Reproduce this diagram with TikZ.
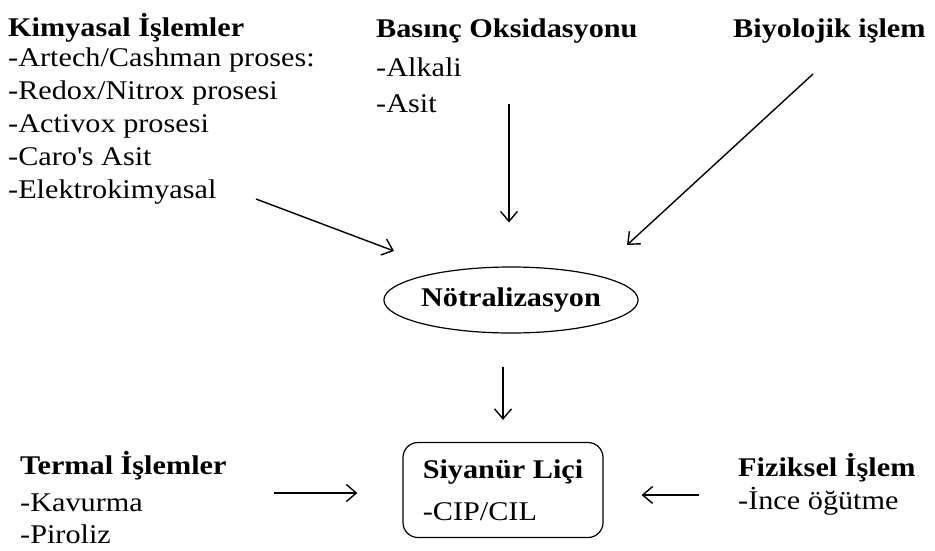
\documentclass[tikz,border=0pt]{standalone}
\usepackage{fontspec}
\setmainfont{Liberation Serif}[FakeStretch=1.12]
\usetikzlibrary{arrows.meta,shapes.geometric}

\newcommand{\ust}{\rule{0pt}{24pt}}

\tikzset{
    blok/.style={align=left, anchor=north west, inner sep=0pt},
    ok/.style={-{Straight Barb[length=10pt,width=17pt]}, line width=1.4pt},
}

\begin{document}
\begin{tikzpicture}[x=1pt, y=-1pt, font=\fontsize{27}{33}\selectfont]
    \useasboundingbox (0,0) rectangle (935,550);

    \node[blok] (kim) at (8,12) {\ust\textbf{Kimyasal İşlemler}\\[-3pt]
        -Artech/Cashman proses:\\ -Redox/Nitrox prosesi\\ -Activox prosesi\\
        -Caro\textquotesingle s Asit\\ -Elektrokimyasal};
    \node[blok] (bas) at (376,13) {\ust\textbf{Basınç Oksidasyonu}\\[6pt] -Alkali\\[3pt] -Asit};
    \node[blok] (biy) at (733,13) {\ust\textbf{Biyolojik işlem}};

    \node[draw, ellipse, line width=1.2pt, inner sep=0pt, minimum width=250pt,
        minimum height=66pt, font=\fontsize{27}{33}\selectfont\bfseries] (neut) at (511,300) {Nötralizasyon};

    \node[draw, rounded corners=15pt, line width=1.2pt, minimum width=200pt,
        minimum height=95pt, align=left] (sian) at (503,490) {\textbf{Siyanür Liçi}\\[9pt] -CIP/CIL};

    \node[blok] (ter) at (20,450) {\ust\textbf{Termal İşlemler}\\[4pt] -Kavurma\\[-1pt] -Piroliz};
    \node[blok] (fiz) at (738,452) {\ust\textbf{Fiziksel İşlem}\\ -İnce öğütme};

    \coordinate (k1) at (256,199);
    \coordinate (k2) at (394,251);
    \coordinate (b1) at (509,104);
    \coordinate (y1) at (813,74);
    \coordinate (y2) at (627,245);
    \coordinate (t1) at (274,493);
    \coordinate (f1) at (699,495);

    \draw[ok] (k1) -- (k2);
    \draw[ok, shorten >=44pt] (b1) -- (b1 |- neut.north);
    \draw[ok] (y1) -- (y2);
    \draw[ok, shorten <=33pt, shorten >=22pt] (neut.south -| sian.north) -- (sian.north);
    \draw[ok, shorten >=45pt] (t1) -- (t1 -| sian.west);
    \draw[ok, shorten >=38pt] (f1) -- (f1 -| sian.east);
\end{tikzpicture}
\end{document}
